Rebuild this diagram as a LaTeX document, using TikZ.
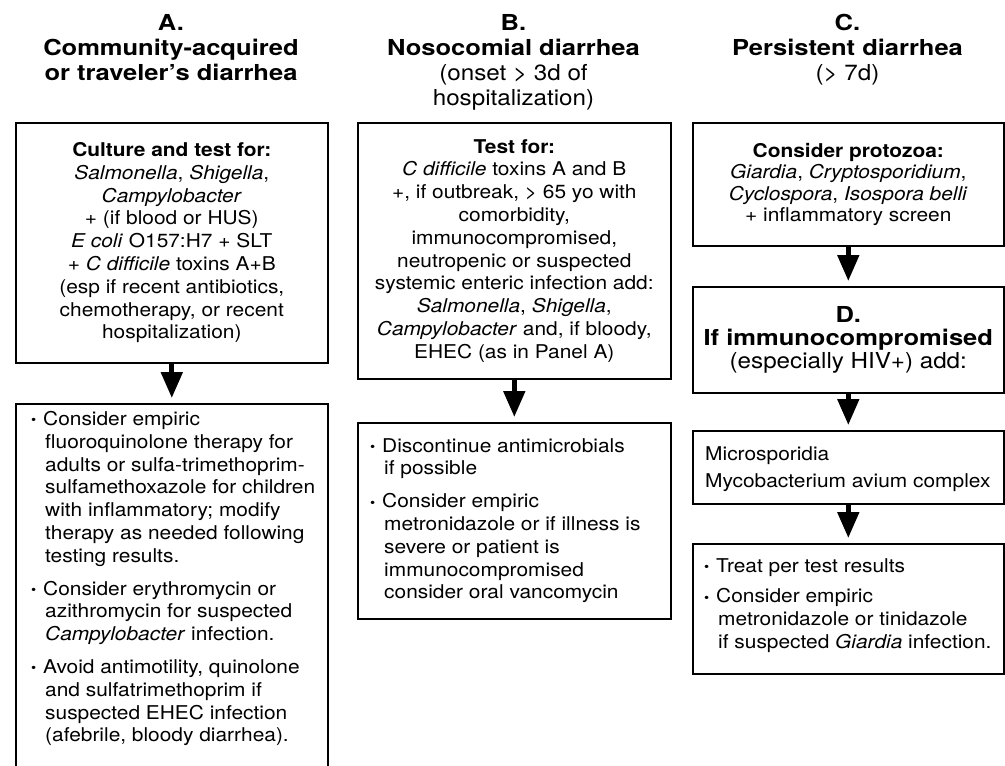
\documentclass[tikz,border=0pt]{standalone}
\usepackage{fontspec}
\setmainfont{TeX Gyre Heros}[FakeStretch=1.1]
\newfontfamily\titlebf{TeX Gyre Heros}[FakeStretch=1.16]
\usetikzlibrary{arrows.meta}
\newcommand{\bul}{\makebox[12pt][l]{\raisebox{0.5pt}{\scalebox{0.7}{\textbullet}}}}
\newcommand{\ind}{\hspace*{14pt}}
\newcommand{\tb}[1]{{\titlebf\bfseries #1}}
\begin{document}
\begin{tikzpicture}[x=1pt,y=-1pt,
  box/.style={draw=black, line width=1.6pt, inner sep=0pt, anchor=north west},
  flow/.style={line width=5pt, -{Triangle[length=26pt,width=21pt]}, shorten >=5pt},
  title/.style={align=center, inner sep=0pt, anchor=north, font=\fontsize{22}{25}\selectfont},
  body/.style={font=\fontsize{19}{22.8}\selectfont},
  ltext/.style={body, align=left, inner sep=0pt, anchor=north west}]
\useasboundingbox (0,0) rectangle (1005,766);
% titles
\node[title] (ta) at (171,14) {\tb{A.}\\\tb{Community-acquired}\\\tb{or traveler’s diarrhea}};
\node[title] (tb) at (513.5,14) {\tb{B.}\\\tb{Nosocomial diarrhea}\\(onset > 3d of\\hospitalization)};
\node[title] (tc) at (847.5,14) {\tb{C.}\\\tb{Persistent diarrhea}\\(> 7d)};
% column A
\node[box, body, align=center, minimum width=312pt, minimum height=240pt] (a1) at (15,122)
 {\textbf{Culture and test for:}\\
  \textit{Salmonella}, \textit{Shigella},\\
  \textit{Campylobacter}\\
  + (if blood or HUS)\\
  \textit{E coli} O157:H7 + SLT\\
  + \textit{C difficile} toxins A+B\\
  (esp if recent antibiotics,\\
  chemotherapy, or recent\\
  hospitalization)};
\node[box, minimum width=312pt, minimum height=420pt] (a2) at (15,403) {};
\node[ltext] (a2t) at (31,411)
 {\bul Consider empiric\\
  \ind fluoroquinolone therapy for\\
  \ind adults or sulfa-trimethoprim-\\
  \ind sulfamethoxazole for children\\
  \ind with inflammatory; modify\\
  \ind therapy as needed following\\
  \ind testing results.\\[10pt]
  \bul Consider erythromycin or\\
  \ind azithromycin for suspected\\
  \ind \textit{Campylobacter} infection.\\[10pt]
  \bul Avoid antimotility, quinolone\\
  \ind and sulfatrimethoprim if\\
  \ind suspected EHEC infection\\
  \ind (afebrile, bloody diarrhea).};
% column B
\node[box, body, align=center, minimum width=313pt, minimum height=256pt] (b1) at (357,122)
 {\textbf{Test for:}\\
  \textit{C difficile} toxins A and B\\
  +, if outbreak, > 65 yo with\\
  comorbidity,\\
  immunocompromised,\\
  neutropenic or suspected\\
  systemic enteric infection add:\\
  \textit{Salmonella}, \textit{Shigella},\\
  \textit{Campylobacter} and, if bloody,\\
  EHEC (as in Panel A)};
\node[box, minimum width=313pt, minimum height=196pt] (b2) at (357,422) {};
\node[ltext] (b2t) at (370,438)
 {\bul Discontinue antimicrobials\\
  \ind if possible\\[10pt]
  \bul Consider empiric\\
  \ind metronidazole or if illness is\\
  \ind severe or patient is\\
  \ind immunocompromised\\
  \ind consider oral vancomycin};
% column C
\node[box, align=center, minimum width=311pt, minimum height=123pt, font=\fontsize{19}{21.5}\selectfont] (c1) at (692,122)
 {\textbf{Consider protozoa:}\\
  \textit{Giardia}, \textit{Cryptosporidium},\\
  \textit{Cyclospora}, \textit{Isospora belli}\\
  + inflammatory screen};
\node[box, align=center, minimum width=311pt, minimum height=106pt, font=\fontsize{22}{22.8}\selectfont] (d) at (692,286)
 {\tb{D.}\\\tb{If immunocompromised}\\(especially HIV+) add:};
\node[box, minimum width=311pt, minimum height=73pt] (d2) at (692,430) {};
\node[ltext] (d2t) at (705,446) {Microsporidia\\[5pt]Mycobacterium avium complex};
\node[box, minimum width=311pt, minimum height=130pt] (d3) at (692,543) {};
\node[ltext] (d3t) at (704,558)
 {\bul Treat per test results\\[8pt]
  \bul Consider empiric\\
  \ind metronidazole or tinidazole\\
  \ind if suspected \textit{Giardia} infection.};
% arrows
\draw[flow] (a1) -- (a2);
\draw[flow] (b1) -- (b2);
\draw[flow] (c1) -- (d);
\draw[flow] (d) -- (d2);
\draw[flow] (d2) -- (d3);
\end{tikzpicture}
\end{document}
